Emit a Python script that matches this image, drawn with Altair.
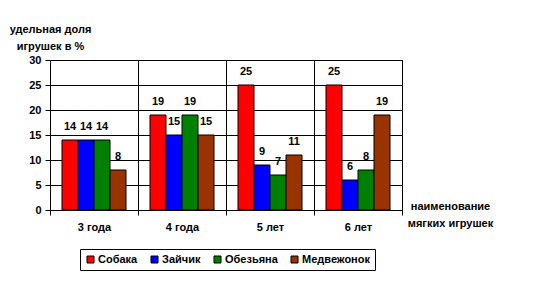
import altair as alt
import pandas as pd

categories = ["3 года", "4 года", "5 лет", "6 лет"]
series = ["Собака", "Зайчик", "Обезьяна", "Медвежонок"]
sobaka = [14, 19, 25, 25]
zaychik = [14, 15, 9, 6]
obezyana = [14, 19, 7, 8]
medvezhonok = [8, 15, 11, 19]
colors = ["#FF0000", "#0000FF", "#008000", "#993300"]

rows = []
for s, vals in zip(series, [sobaka, zaychik, obezyana, medvezhonok]):
    for c, v in zip(categories, vals):
        rows.append({"cat": c, "series": s, "value": v})
df = pd.DataFrame(rows)

FONT = "Liberation Sans"

x_enc = alt.X(
    "cat:N",
    sort=categories,
    scale=alt.Scale(paddingInner=0, paddingOuter=0),
    axis=alt.Axis(
        title=["наименование", "мягких игрушек"],
        titleAngle=0,
        titleAlign="center",
        titleBaseline="top",
        titleX=400,
        titleY=-10,
        titleLineHeight=17,
        titleFont=FONT,
        titleFontSize=11,
        titleFontWeight="bold",
        titleColor="black",
        labelAngle=0,
        labelFont=FONT,
        labelFontSize=11,
        labelFontWeight="bold",
        labelColor="black",
        labelPadding=6,
        tickBand="extent",
        grid=True,
        gridColor="black",
        gridOpacity=1,
        domainColor="black",
        tickColor="black",
        tickSize=5,
    ),
)
xo_enc = alt.XOffset(
    "series:N",
    sort=series,
    scale=alt.Scale(paddingInner=0, paddingOuter=0.75),
)
y_enc = alt.Y(
    "value:Q",
    scale=alt.Scale(domain=[0, 30], nice=False),
    axis=alt.Axis(
        values=[0, 5, 10, 15, 20, 25, 30],
        labelOverlap=False,
        title=["удельная доля", "игрушек в %"],
        titleAngle=0,
        titleAlign="center",
        titleBaseline="top",
        titleX=0,
        titleY=-37,
        titleLineHeight=17,
        titleFont=FONT,
        titleFontSize=11,
        titleFontWeight="bold",
        titleColor="black",
        labelFont=FONT,
        labelFontSize=11,
        labelFontWeight="bold",
        labelColor="black",
        labelPadding=4,
        grid=True,
        gridColor="black",
        gridOpacity=1,
        domainColor="black",
        tickColor="black",
        tickSize=5,
    ),
)

base = alt.Chart(df).encode(x=x_enc, xOffset=xo_enc, y=y_enc)

bars = base.mark_bar(stroke="black", strokeWidth=1).encode(
    color=alt.Color(
        "series:N",
        sort=series,
        scale=alt.Scale(domain=series, range=colors),
        legend=alt.Legend(
            title=None,
            orient="none",
            legendX=30,
            legendY=189,
            direction="horizontal",
            columns=4,
            symbolType="square",
            symbolSize=49,
            symbolStrokeColor="black",
            symbolStrokeWidth=1,
            symbolOpacity=1,
            labelFont=FONT,
            labelFontSize=11,
            labelFontWeight="bold",
            labelColor="black",
            labelOffset=2,
            columnPadding=11,
            padding=5,
            strokeColor="black",
            fillColor="white",
        ),
    ),
)

labels = base.mark_text(
    dy=-13, baseline="middle", font=FONT, fontSize=11, fontWeight="bold", color="black"
).encode(
    text=alt.Text("value:Q"),
)

chart = (
    alt.layer(bars, labels)
    .properties(
        width=352,
        height=150,
        autosize=alt.AutoSizeParams(type="none"),
        padding={"left": 50, "top": 60, "right": 136, "bottom": 71},
        background="white",
    )
    .configure_view(stroke="black", strokeWidth=1)
)

chart.save("out.html", embed_options={"renderer": "svg", "actions": False})
